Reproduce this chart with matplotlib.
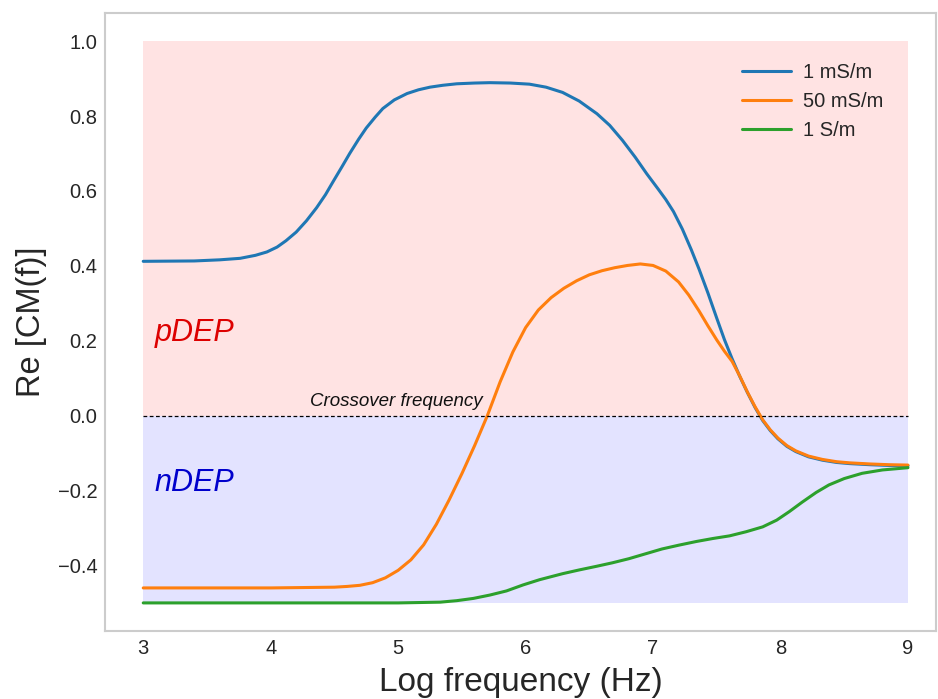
import matplotlib
matplotlib.use("Agg")
import matplotlib.pyplot as plt
import seaborn as sns

sns.set_style("white")
plt.rcParams['font.family'] = ['Liberation Sans', 'DejaVu Sans']

# ---- data ----
x_blue = [3.0, 3.4, 3.6, 3.76, 3.88, 3.97, 4.05, 4.12, 4.2, 4.28, 4.36, 4.43, 4.49, 4.56,
          4.62, 4.69, 4.75, 4.82, 4.88, 4.97, 5.07, 5.16, 5.25, 5.35, 5.46, 5.6, 5.72,
          5.88, 6.03, 6.16, 6.29, 6.42, 6.56, 6.66, 6.76, 6.86, 6.95, 7.04, 7.10, 7.16,
          7.23, 7.30, 7.36, 7.43, 7.50, 7.56, 7.62, 7.68, 7.74, 7.80, 7.86, 7.92, 7.98,
          8.05, 8.12, 8.22, 8.33, 8.44, 8.54, 8.7, 8.85, 9.0]
y_blue = [0.412, 0.413, 0.416, 0.42, 0.428, 0.437, 0.45, 0.467, 0.49, 0.52, 0.555, 0.59,
          0.625, 0.665, 0.70, 0.738, 0.768, 0.797, 0.82, 0.843, 0.86, 0.87, 0.877, 0.882,
          0.886, 0.888, 0.889, 0.888, 0.885, 0.877, 0.863, 0.84, 0.806, 0.775, 0.735,
          0.69, 0.646, 0.605, 0.577, 0.545, 0.498, 0.443, 0.392, 0.328, 0.26, 0.203,
          0.152, 0.105, 0.062, 0.022, -0.013, -0.04, -0.062, -0.082, -0.096, -0.11,
          -0.119, -0.125, -0.128, -0.131, -0.133, -0.134]

x_orange = [3.0, 4.0, 4.5, 4.6, 4.7, 4.8, 4.9, 5.0, 5.1, 5.2, 5.3, 5.4, 5.5, 5.6, 5.7,
            5.8, 5.9, 6.0, 6.1, 6.2, 6.3, 6.4, 6.5, 6.6, 6.7, 6.8, 6.9, 7.0, 7.1, 7.2,
            7.28, 7.36, 7.43, 7.50, 7.56, 7.62, 7.68, 7.74, 7.80, 7.86, 7.92, 7.98, 8.05,
            8.12, 8.22, 8.33, 8.44, 8.54, 8.7, 8.85, 9.0]
y_orange = [-0.46, -0.46, -0.458, -0.456, -0.453, -0.446, -0.433, -0.413, -0.385, -0.345,
            -0.29, -0.225, -0.155, -0.08, 0.0, 0.09, 0.17, 0.235, 0.282, 0.315, 0.34,
            0.36, 0.376, 0.387, 0.395, 0.401, 0.405, 0.401, 0.386, 0.357, 0.322, 0.28,
            0.24, 0.202, 0.172, 0.145, 0.106, 0.063, 0.024, -0.011, -0.038, -0.06,
            -0.08, -0.094, -0.108, -0.117, -0.123, -0.126, -0.129, -0.131, -0.132]

x_green = [3.0, 4.0, 5.0, 5.33, 5.46, 5.59, 5.72, 5.85, 5.98, 6.11, 6.2, 6.29, 6.42, 6.56,
           6.68, 6.81, 6.94, 7.07, 7.2, 7.34, 7.47, 7.60, 7.73, 7.86, 7.97, 8.07, 8.17,
           8.28, 8.38, 8.5, 8.64, 8.8, 9.0]
y_green = [-0.50, -0.50, -0.50, -0.498, -0.494, -0.488, -0.479, -0.468, -0.452, -0.438,
           -0.43, -0.422, -0.412, -0.402, -0.393, -0.382, -0.369, -0.356, -0.346, -0.336,
           -0.328, -0.321, -0.31, -0.297, -0.279, -0.256, -0.231, -0.205, -0.185, -0.168,
           -0.154, -0.145, -0.139]

series_labels = ["1 mS/m", "50 mS/m", "1 S/m"]
x_ticks = [3, 4, 5, 6, 7, 8, 9]
y_ticks = [-0.4, -0.2, 0.0, 0.2, 0.4, 0.6, 0.8, 1.0]
y_ticklabels = ["\u22120.4", "\u22120.2", "0.0", "0.2", "0.4", "0.6", "0.8", "1.0"]

fig = plt.figure(figsize=(9.38, 6.99), dpi=100)
ax = fig.add_axes([105/938, 1-631/699, (936-105)/938, (631-13)/699])

# shaded regions
ax.fill_between([3, 9], 0, 1.0, color='red', alpha=0.11, linewidth=0)
ax.fill_between([3, 9], -0.5, 0, color='blue', alpha=0.11, linewidth=0)

ax.plot(x_blue, y_blue, color='#1f77b4', lw=2.2, label=series_labels[0])
ax.plot(x_orange, y_orange, color='#ff7f0e', lw=2.2, label=series_labels[1])
ax.plot(x_green, y_green, color='#2ca02c', lw=2.2, label=series_labels[2])

ax.plot([3, 9], [0, 0], color='black', ls='--', lw=0.9, dashes=(3, 2))

ax.text(4.31, 0.015, "Crossover frequency", fontsize=13.5, style='italic',
        ha='left', va='bottom', color='#111111')
ax.text(3.09, 0.22, "pDEP", fontsize=22, style='italic', color='#dd0000',
        ha='left', va='center')
ax.text(3.09, -0.18, "nDEP", fontsize=22, style='italic', color='#0000cc',
        ha='left', va='center')

ax.set_xlim(2.7, 9.22)
ax.set_ylim(-0.575, 1.075)
ax.set_xticks(x_ticks)
ax.set_yticks(y_ticks)
ax.set_yticklabels(y_ticklabels)
ax.tick_params(labelsize=14.5, colors='#262626', length=0, pad=5.5)
ax.set_xlabel("Log frequency (Hz)", fontsize=24, color='#262626', labelpad=7)
ax.set_ylabel("Re [CM(f)]", fontsize=23.5, color='#262626', labelpad=8)

for s in ax.spines.values():
    s.set_color('#cccccc')
    s.set_linewidth(1.5)

leg = ax.legend(loc='upper right', frameon=False, fontsize=14.5,
                bbox_to_anchor=(0.958, 0.948), handlelength=2.4,
                handletextpad=0.6, labelspacing=0.5)

fig.savefig("out.png", dpi=100)
